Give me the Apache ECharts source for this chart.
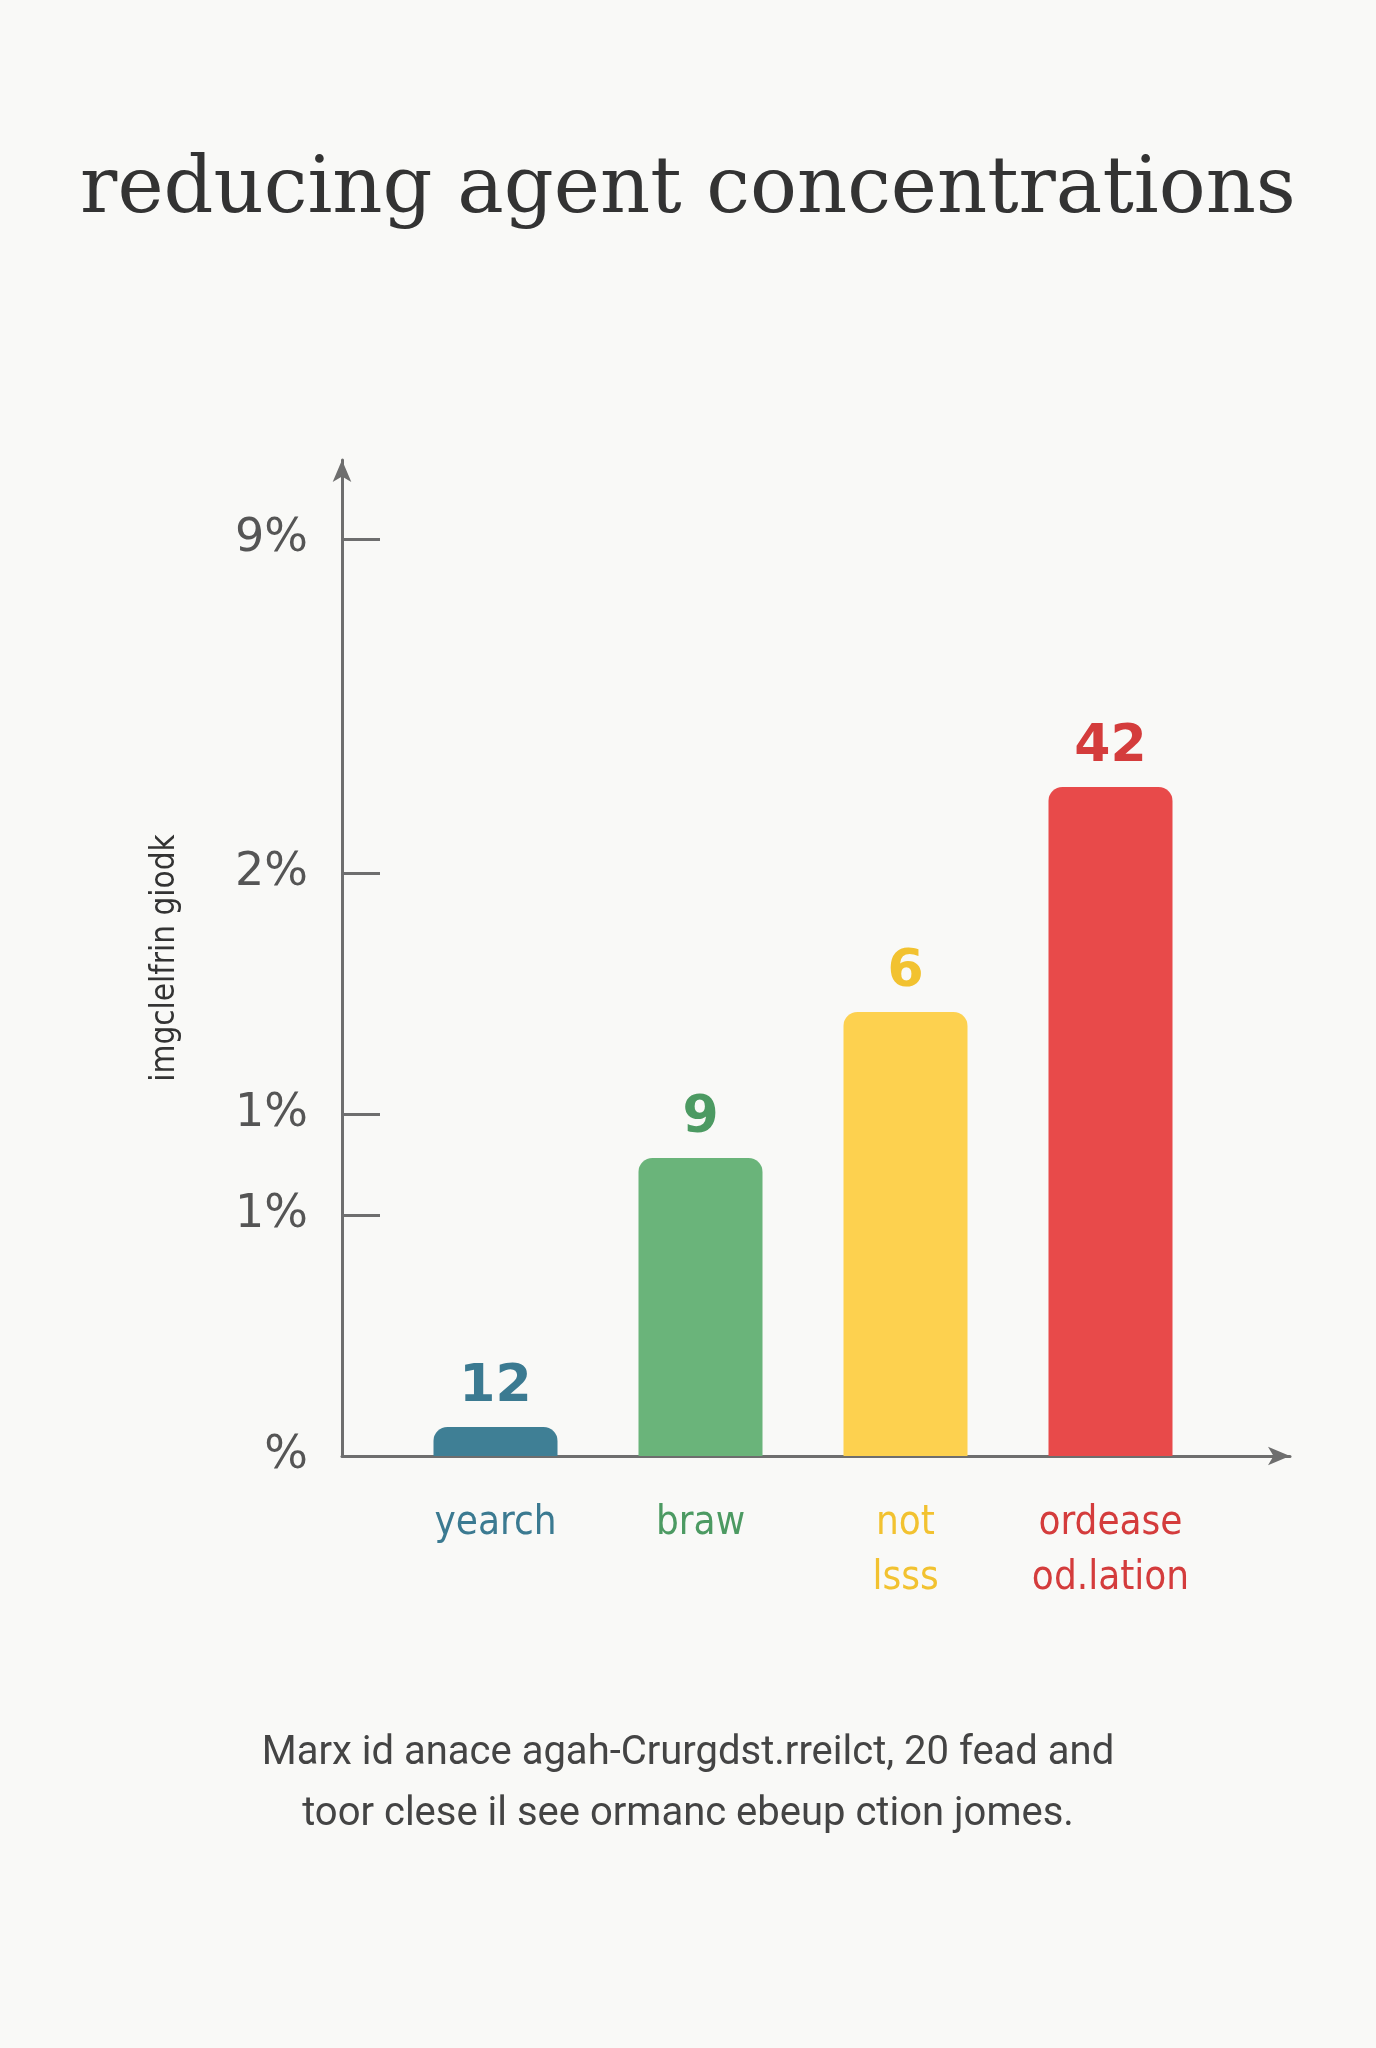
<!DOCTYPE html>
<html>
<head>
<meta charset="utf-8">
<script src="https://cdn.jsdelivr.net/npm/echarts@6/dist/echarts.min.js"></script>
<style>
  html, body { margin: 0; padding: 0; background: #f9f9f7; }
  #chart { width: 1376px; height: 2048px; }
</style>
</head>
<body>
<div id="chart"></div>
<script>
// data
var categories = ['yearch', 'braw', 'not\nlsss', 'ordease\nod.lation'];
var barHeights = [2.9, 29.8, 44.4, 66.9];
var barLabels = ['12', '9', '6', '42'];
var barColors = ['#3f7f95', '#6ab47a', '#fdd14f', '#e84a4a'];
var labelColors = ['#3b7a91', '#4c9a62', '#f2c230', '#d43c3c'];
var tickValues = [0, 24.1, 34.2, 58.3, 91.7];
var tickLabels = ['%', '1%', '1%', '2%', '9%'];

var myChart = echarts.init(document.getElementById('chart'));

var yMax = 99.6;
var rich = {};
labelColors.forEach(function (c, i) {
    rich['c' + i] = { color: c, fontSize: 40, lineHeight: 55, fontFamily: 'DejaVu Sans Condensed' };
});

var option = {
    backgroundColor: '#f9f9f7',
    title: [
        {
            text: 'reducing agent concentrations',
            left: 'center',
            top: 148,
            textStyle: { fontFamily: 'DejaVu Serif', fontSize: 78, fontWeight: 'normal', color: '#333' }
        },
        {
            text: 'Marx id anace agah-Crurgdst.rreilct, 20 fead and\ntoor clese il see ormanc ebeup ction jomes.',
            left: 'center',
            top: 1718,
            textStyle: { fontFamily: 'Roboto', fontSize: 40, fontWeight: 'normal', color: '#444', lineHeight: 61, align: 'center' }
        }
    ],
    grid: [
        { left: 342, right: 1376 - 1290, top: 460, bottom: 592 },
        { left: 393, right: 1376 - 1213, top: 460, bottom: 592 }
    ],
    xAxis: [
        {
            gridIndex: 0, type: 'value', min: 0, max: 1,
            axisLine: { show: true, symbol: ['none', 'arrow'], symbolSize: [14, 22], lineStyle: { color: '#6e6e6e', width: 3 } },
            axisTick: { show: false }, axisLabel: { show: false }, splitLine: { show: false }
        },
        {
            gridIndex: 1, type: 'category', data: categories,
            axisLine: { show: false }, axisTick: { show: false },
            axisLabel: {
                margin: 40,
                formatter: function (v, i) {
                    return v.split('\n').map(function (s) { return '{c' + i + '|' + s + '}'; }).join('\n');
                },
                rich: rich
            }
        }
    ],
    yAxis: [
        {
            gridIndex: 0, type: 'value', min: 0, max: yMax,
            name: 'imgclelfrin giodk',
            nameLocation: 'middle', nameGap: 160, nameRotate: 90,
            nameTextStyle: { fontFamily: 'DejaVu Sans Condensed', fontSize: 33, color: '#333' },
            axisLine: { show: true, symbol: ['none', 'arrow'], symbolSize: [14, 22], lineStyle: { color: '#6e6e6e', width: 3 } },
            axisTick: { show: true, inside: true, length: 38, customValues: tickValues.slice(1), lineStyle: { color: '#6e6e6e', width: 3 } },
            axisLabel: {
                customValues: tickValues, margin: 34, padding: [18, 0, 0, 0],
                formatter: function (v) { return tickLabels[tickValues.indexOf(v)] || ''; },
                fontFamily: 'DejaVu Sans', fontSize: 46, color: '#555'
            },
            splitLine: { show: false }
        },
        {
            gridIndex: 1, type: 'value', min: 0, max: yMax, show: false
        }
    ],
    series: [
        {
            type: 'bar',
            xAxisIndex: 1, yAxisIndex: 1,
            barWidth: 124,
            data: barHeights.map(function (h, i) {
                return {
                    value: h,
                    itemStyle: { color: barColors[i], borderRadius: [14, 14, 0, 0] },
                    label: { color: labelColors[i] }
                };
            }),
            label: {
                show: true, position: 'top', distance: 14,
                fontFamily: 'DejaVu Sans', fontWeight: 'bold', fontSize: 52,
                formatter: function (p) { return barLabels[p.dataIndex]; }
            }
        }
    ]
};
myChart.setOption(option);
</script>
</body>
</html>
